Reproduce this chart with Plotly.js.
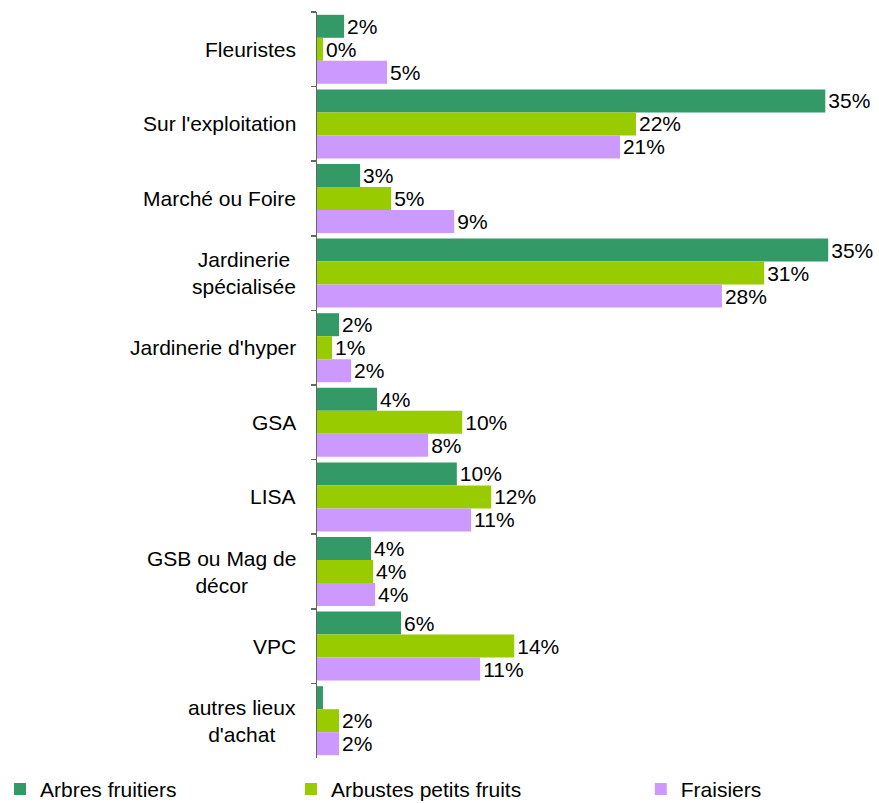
<!DOCTYPE html>
<html>
<head>
<meta charset="utf-8">
<script src="https://cdn.plot.ly/plotly-3.0.1.min.js"></script>
<style>html,body{margin:0;padding:0;background:#fff;}#chart{width:879px;height:803px;}</style>
</head>
<body>
<div id="chart"></div>
<script>
var categories = ["Fleuristes", "Sur l'exploitation", "Marché ou Foire", "Jardinerie<br>spécialisée", "Jardinerie d'hyper", "GSA", "LISA", "GSB ou Mag de<br>décor", "VPC", "autres lieux<br>d'achat"];
var seriesNames = ["Arbres fruitiers", "Arbustes petits fruits", "Fraisiers"];
var arbres = [1.86, 34.9, 2.96, 35.1, 1.51, 4.12, 9.6, 3.71, 5.77, 0.41];
var arbustes = [0.41, 21.9, 5.09, 30.7, 1.03, 9.97, 11.96, 3.85, 13.54, 1.51];
var fraisiers = [4.81, 20.8, 9.42, 27.8, 2.34, 7.63, 10.58, 3.99, 11.2, 1.51];
var arbresLabels = ["2%", "35%", "3%", "35%", "2%", "4%", "10%", "4%", "6%", ""];
var arbustesLabels = ["0%", "22%", "5%", "31%", "1%", "10%", "12%", "4%", "14%", "2%"];
var fraisiersLabels = ["5%", "21%", "9%", "28%", "2%", "8%", "11%", "4%", "11%", "2%"];
var colors = ["#339966", "#99CC00", "#CC99FF"];

var FONT = "Arial, 'Liberation Sans', sans-serif";
var values = [arbres, arbustes, fraisiers];
var labels = [arbresLabels, arbustesLabels, fraisiersLabels];
var legendIds = ["legend", "legend2", "legend3"];

var traces = values.map(function (v, i) {
  return {
    type: "bar",
    orientation: "h",
    name: seriesNames[i],
    y: categories,
    x: v,
    text: labels[i],
    textposition: "outside",
    constraintext: "none",
    cliponaxis: false,
    textfont: {family: FONT, size: 21, color: "#000"},
    marker: {color: colors[i]},
    legend: legendIds[i],
    hoverinfo: "none"
  };
});

var annotations = categories.map(function (c, i) {
  return {
    xref: "paper", yref: "y", x: 0, y: i,
    xanchor: "right", yanchor: "middle", xshift: -19,
    align: "center", showarrow: false,
    text: c,
    font: {family: FONT, size: 21, color: "#000"}
  };
});

function legendAt(x) {
  return {
    orientation: "h", xref: "container", yref: "container",
    x: x, y: 0.017, xanchor: "left", yanchor: "middle",
    bgcolor: "rgba(0,0,0,0)", borderwidth: 0,
    font: {family: FONT, size: 21, color: "#000"}
  };
}

var layout = {
  width: 879, height: 803,
  margin: {l: 317, r: 10, t: 12, b: 45, pad: 0},
  paper_bgcolor: "#fff", plot_bgcolor: "#fff",
  font: {family: FONT, size: 21, color: "#000"},
  barmode: "group",
  bargap: 0.075,
  bargroupgap: 0,
  showlegend: true,
  xaxis: {visible: false, range: [0, 37.9], showgrid: false, zeroline: false, fixedrange: true},
  yaxis: {
    type: "category", autorange: "reversed",
    showline: true, linecolor: "#666", linewidth: 1.5,
    ticks: "outside", tickson: "boundaries", ticklen: 5, tickcolor: "#666", tickwidth: 1.5,
    showticklabels: false, showgrid: false, zeroline: false
  },
  legend: legendAt(0.0),
  legend2: legendAt(0.331),
  legend3: legendAt(0.729),
  annotations: annotations
};

Plotly.newPlot("chart", traces, layout, {displayModeBar: false, staticPlot: true});
</script>
</body>
</html>
